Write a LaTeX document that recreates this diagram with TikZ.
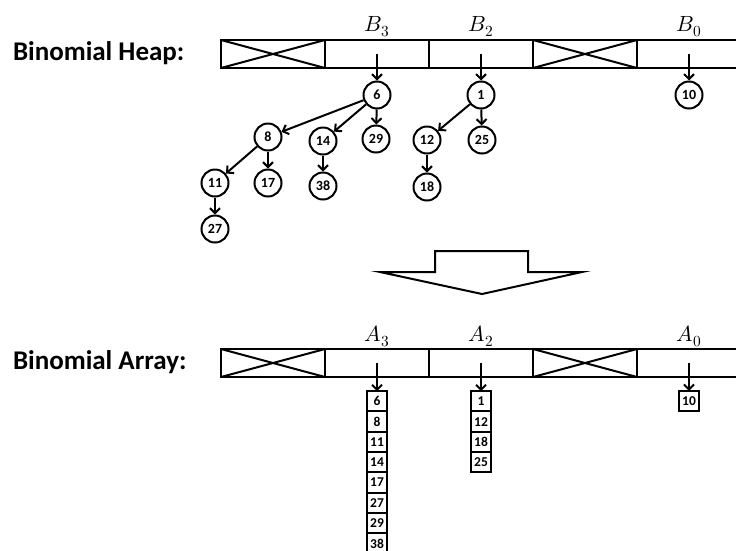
\documentclass[tikz,border=0pt]{standalone}
\usepackage{fontspec}
\usepackage{unicode-math}
\setmainfont{Carlito}
\setmathfont{Latin Modern Math}
\usetikzlibrary{arrows.meta}
\newcommand{\cw}{104}
\newcommand{\rh}{20.3}

\begin{document}
\begin{tikzpicture}[x=1pt,y=-1pt,line width=2pt,
  cell/.style={draw,minimum width=\cw pt,minimum height=28pt,inner sep=0pt,outer sep=0pt},
  hnode/.style={circle,draw,minimum size=27pt,inner sep=0pt,font=\bfseries\fontsize{14}{14}\selectfont},
  anode/.style={draw,minimum width=20pt,minimum height=\rh pt,inner sep=0pt,outer sep=0pt,font=\bfseries\fontsize{13.5}{13.5}\selectfont},
  link/.style={-{Straight Barb[length=5pt,width=10pt]}},
  lab/.style={anchor=base,inner sep=0pt,font=\fontsize{22}{22}\selectfont},
  title/.style={anchor=west,inner sep=0pt,font=\bfseries\fontsize{27}{27}\selectfont}]
\useasboundingbox (0,0) rectangle (736,550);
\clip (0,0) rectangle (736,550);

% titles
\node[title] (theap) at (12,53) {Binomial Heap:};
\node[title] (tarr) at (12,362) {Binomial Array:};

% the two arrays
\foreach \i in {0,...,4}{
\node[cell] (h\i) at ({221+\cw/2+\cw*\i},54) {};
\node[cell] (a\i) at ({221+\cw/2+\cw*\i},363) {};
}
\foreach \c in {h0,h3,a0,a3}{
\draw (\c.north west) -- (\c.south east) (\c.south west) -- (\c.north east);
}
\node[lab] (lb3) at (377,31) {$B_3$};
\node[lab] (lb2) at (481,31) {$B_2$};
\node[lab] (lb0) at (689,31) {$B_0$};
\node[lab] (la3) at (377,341) {$A_3$};
\node[lab] (la2) at (481,341) {$A_2$};
\node[lab] (la0) at (689,341) {$A_0$};

% heap trees
\node[hnode] (n6) at (377,95) {6};
\node[hnode] (n1) at (481,95) {1};
\node[hnode] (n10) at (689,95) {10};
\node[hnode] (n8) at (268,137) {8};
\node[hnode] (n14) at (323,141) {14};
\node[hnode] (n29) at (376,139) {29};
\node[hnode] (n12) at (427,140) {12};
\node[hnode] (n25) at (482,140) {25};
\node[hnode] (n11) at (215,183) {11};
\node[hnode] (n17) at (268,183) {17};
\node[hnode] (n38) at (323,186) {38};
\node[hnode] (n18) at (427,187) {18};
\node[hnode] (n27) at (215,229) {27};
\draw[link] (h1.center) -- (n6);
\draw[link] (h2.center) -- (n1);
\draw[link] (h4.center) -- (n10);
\foreach \p/\q in {n6/n8,n6/n14,n6/n29,n1/n12,n1/n25,n8/n11,n8/n17,n14/n38,n12/n18,n11/n27}{
\draw[link] (\p) -- (\q);
}

% big arrow
\coordinate (s1) at (435,251);
\coordinate (s2) at (528,251);
\coordinate (s3) at (528,272);
\coordinate (s4) at (582,272);
\coordinate (tip) at (482,294);
\coordinate (s5) at (380,272);
\coordinate (s6) at (435,272);
\draw (s1) -- (s2) -- (s3) -- (s4) -- (tip) -- (s5) -- (s6) -- cycle;

% binomial array columns
\foreach \v [count=\k] in {6,8,11,14,17,27,29,38}{
\node[anode] (c3-\k) at (377,{381+\rh*\k}) {\v};
}
\foreach \v [count=\k] in {1,12,18,25}{
\node[anode] (c2-\k) at (481,{381+\rh*\k}) {\v};
}
\node[anode] (c0-1) at (689,401) {10};
\draw[link] (a1.center) -- (c3-1);
\draw[link] (a2.center) -- (c2-1);
\draw[link] (a4.center) -- (c0-1);
\end{tikzpicture}
\end{document}
